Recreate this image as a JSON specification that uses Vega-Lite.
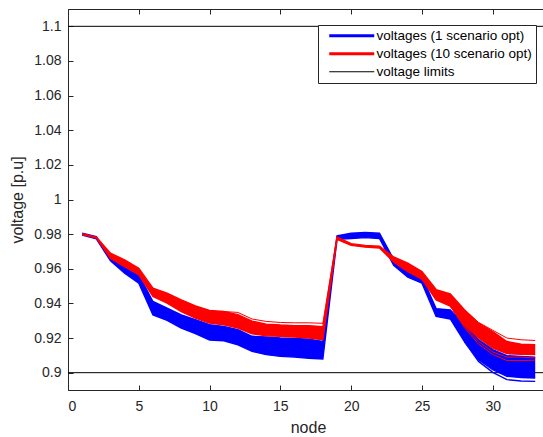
{
  "$schema": "https://vega.github.io/schema/vega-lite/v6.json",
  "width": 475,
  "height": 381,
  "autosize": {"type": "none"},
  "padding": {"left": 68, "top": 9, "right": 0, "bottom": 47},
  "background": "white",
  "config": {
    "view": {"stroke": null},
    "font": "Liberation Sans",
    "axis": {
      "grid": false,
      "domainColor": "#262626",
      "tickColor": "#262626",
      "labelColor": "#262626",
      "titleColor": "#262626",
      "labelFont": "Liberation Sans",
      "titleFont": "Liberation Sans",
      "labelFontSize": 14,
      "titleFontSize": 16,
      "titleFontWeight": "normal",
      "tickSize": -5,
      "domainWidth": 1,
      "tickWidth": 1
    },
    "legend": {
      "orient": "none",
      "legendX": 250,
      "legendY": 16,
      "fillColor": "white",
      "strokeColor": "#262626",
      "padding": 4,
      "labelFont": "Liberation Sans",
      "labelFontSize": 13.5,
      "labelColor": "black",
      "rowPadding": 3,
      "labelLimit": 300,
      "title": null
    }
  },
  "datasets": {
    "bands": [
      {"node": 1, "series": "voltages (1 scenario opt)", "lo": 0.9795, "hi": 0.9805},
      {"node": 2, "series": "voltages (1 scenario opt)", "lo": 0.9773, "hi": 0.9785},
      {"node": 3, "series": "voltages (1 scenario opt)", "lo": 0.9646, "hi": 0.9672},
      {"node": 4, "series": "voltages (1 scenario opt)", "lo": 0.9575, "hi": 0.9615},
      {"node": 5, "series": "voltages (1 scenario opt)", "lo": 0.9517, "hi": 0.9565},
      {"node": 6, "series": "voltages (1 scenario opt)", "lo": 0.9334, "hi": 0.9411},
      {"node": 7, "series": "voltages (1 scenario opt)", "lo": 0.9302, "hi": 0.9373},
      {"node": 8, "series": "voltages (1 scenario opt)", "lo": 0.9258, "hi": 0.9334},
      {"node": 9, "series": "voltages (1 scenario opt)", "lo": 0.9225, "hi": 0.9306},
      {"node": 10, "series": "voltages (1 scenario opt)", "lo": 0.9188, "hi": 0.9277},
      {"node": 11, "series": "voltages (1 scenario opt)", "lo": 0.9184, "hi": 0.9267},
      {"node": 12, "series": "voltages (1 scenario opt)", "lo": 0.9161, "hi": 0.9248},
      {"node": 13, "series": "voltages (1 scenario opt)", "lo": 0.9123, "hi": 0.921},
      {"node": 14, "series": "voltages (1 scenario opt)", "lo": 0.9104, "hi": 0.9206},
      {"node": 15, "series": "voltages (1 scenario opt)", "lo": 0.9094, "hi": 0.92},
      {"node": 16, "series": "voltages (1 scenario opt)", "lo": 0.909, "hi": 0.9198},
      {"node": 17, "series": "voltages (1 scenario opt)", "lo": 0.9083, "hi": 0.9194},
      {"node": 18, "series": "voltages (1 scenario opt)", "lo": 0.9079, "hi": 0.918},
      {"node": 19, "series": "voltages (1 scenario opt)", "lo": 0.977, "hi": 0.979},
      {"node": 20, "series": "voltages (1 scenario opt)", "lo": 0.9775, "hi": 0.9805},
      {"node": 21, "series": "voltages (1 scenario opt)", "lo": 0.978, "hi": 0.981},
      {"node": 22, "series": "voltages (1 scenario opt)", "lo": 0.9775, "hi": 0.9805},
      {"node": 23, "series": "voltages (1 scenario opt)", "lo": 0.962, "hi": 0.9655},
      {"node": 24, "series": "voltages (1 scenario opt)", "lo": 0.9552, "hi": 0.9598},
      {"node": 25, "series": "voltages (1 scenario opt)", "lo": 0.9517, "hi": 0.9555},
      {"node": 26, "series": "voltages (1 scenario opt)", "lo": 0.9325, "hi": 0.937},
      {"node": 27, "series": "voltages (1 scenario opt)", "lo": 0.931, "hi": 0.9363},
      {"node": 28, "series": "voltages (1 scenario opt)", "lo": 0.918, "hi": 0.9277},
      {"node": 29, "series": "voltages (1 scenario opt)", "lo": 0.9075, "hi": 0.919},
      {"node": 30, "series": "voltages (1 scenario opt)", "lo": 0.9017, "hi": 0.9133},
      {"node": 31, "series": "voltages (1 scenario opt)", "lo": 0.8979, "hi": 0.9098},
      {"node": 32, "series": "voltages (1 scenario opt)", "lo": 0.8972, "hi": 0.9094},
      {"node": 33, "series": "voltages (1 scenario opt)", "lo": 0.8969, "hi": 0.909},
      {"node": 1, "series": "voltages (10 scenario opt)", "lo": 0.9797, "hi": 0.9803},
      {"node": 2, "series": "voltages (10 scenario opt)", "lo": 0.9777, "hi": 0.9783},
      {"node": 3, "series": "voltages (10 scenario opt)", "lo": 0.966, "hi": 0.969},
      {"node": 4, "series": "voltages (10 scenario opt)", "lo": 0.9613, "hi": 0.9651},
      {"node": 5, "series": "voltages (10 scenario opt)", "lo": 0.9565, "hi": 0.9603},
      {"node": 6, "series": "voltages (10 scenario opt)", "lo": 0.944, "hi": 0.9488},
      {"node": 7, "series": "voltages (10 scenario opt)", "lo": 0.9402, "hi": 0.9459},
      {"node": 8, "series": "voltages (10 scenario opt)", "lo": 0.9353, "hi": 0.9421},
      {"node": 9, "series": "voltages (10 scenario opt)", "lo": 0.9315, "hi": 0.9386},
      {"node": 10, "series": "voltages (10 scenario opt)", "lo": 0.9286, "hi": 0.9359},
      {"node": 11, "series": "voltages (10 scenario opt)", "lo": 0.9277, "hi": 0.9353},
      {"node": 12, "series": "voltages (10 scenario opt)", "lo": 0.9258, "hi": 0.9335},
      {"node": 13, "series": "voltages (10 scenario opt)", "lo": 0.9225, "hi": 0.9298},
      {"node": 14, "series": "voltages (10 scenario opt)", "lo": 0.9213, "hi": 0.928},
      {"node": 15, "series": "voltages (10 scenario opt)", "lo": 0.921, "hi": 0.9275},
      {"node": 16, "series": "voltages (10 scenario opt)", "lo": 0.9206, "hi": 0.9272},
      {"node": 17, "series": "voltages (10 scenario opt)", "lo": 0.92, "hi": 0.9272},
      {"node": 18, "series": "voltages (10 scenario opt)", "lo": 0.919, "hi": 0.9265},
      {"node": 19, "series": "voltages (10 scenario opt)", "lo": 0.977, "hi": 0.9783},
      {"node": 20, "series": "voltages (10 scenario opt)", "lo": 0.9735, "hi": 0.9745},
      {"node": 21, "series": "voltages (10 scenario opt)", "lo": 0.9725, "hi": 0.9735},
      {"node": 22, "series": "voltages (10 scenario opt)", "lo": 0.972, "hi": 0.973},
      {"node": 23, "series": "voltages (10 scenario opt)", "lo": 0.964, "hi": 0.9668},
      {"node": 24, "series": "voltages (10 scenario opt)", "lo": 0.9584, "hi": 0.9632},
      {"node": 25, "series": "voltages (10 scenario opt)", "lo": 0.954, "hi": 0.9584},
      {"node": 26, "series": "voltages (10 scenario opt)", "lo": 0.942, "hi": 0.948},
      {"node": 27, "series": "voltages (10 scenario opt)", "lo": 0.9385, "hi": 0.9455},
      {"node": 28, "series": "voltages (10 scenario opt)", "lo": 0.9275, "hi": 0.9363},
      {"node": 29, "series": "voltages (10 scenario opt)", "lo": 0.92, "hi": 0.9286},
      {"node": 30, "series": "voltages (10 scenario opt)", "lo": 0.9142, "hi": 0.9238},
      {"node": 31, "series": "voltages (10 scenario opt)", "lo": 0.911, "hi": 0.918},
      {"node": 32, "series": "voltages (10 scenario opt)", "lo": 0.9106, "hi": 0.9165},
      {"node": 33, "series": "voltages (10 scenario opt)", "lo": 0.9104, "hi": 0.9161}
    ],
    "extra": [
      {"node": 28, "series": "voltages (1 scenario opt)", "line": "bmin", "v": 0.918},
      {"node": 29, "series": "voltages (1 scenario opt)", "line": "bmin", "v": 0.9065},
      {"node": 30, "series": "voltages (1 scenario opt)", "line": "bmin", "v": 0.9002},
      {"node": 31, "series": "voltages (1 scenario opt)", "line": "bmin", "v": 0.896},
      {"node": 32, "series": "voltages (1 scenario opt)", "line": "bmin", "v": 0.8952},
      {"node": 33, "series": "voltages (1 scenario opt)", "line": "bmin", "v": 0.895},
      {"node": 11, "series": "voltages (10 scenario opt)", "line": "rtop", "v": 0.9353},
      {"node": 12, "series": "voltages (10 scenario opt)", "line": "rtop", "v": 0.9348},
      {"node": 13, "series": "voltages (10 scenario opt)", "line": "rtop", "v": 0.931},
      {"node": 14, "series": "voltages (10 scenario opt)", "line": "rtop", "v": 0.9296},
      {"node": 15, "series": "voltages (10 scenario opt)", "line": "rtop", "v": 0.929},
      {"node": 16, "series": "voltages (10 scenario opt)", "line": "rtop", "v": 0.9288},
      {"node": 17, "series": "voltages (10 scenario opt)", "line": "rtop", "v": 0.9288},
      {"node": 18, "series": "voltages (10 scenario opt)", "line": "rtop", "v": 0.9285},
      {"node": 19, "series": "voltages (10 scenario opt)", "line": "rtop", "v": 0.9783},
      {"node": 28, "series": "voltages (10 scenario opt)", "line": "rtop2", "v": 0.9363},
      {"node": 29, "series": "voltages (10 scenario opt)", "line": "rtop2", "v": 0.929},
      {"node": 30, "series": "voltages (10 scenario opt)", "line": "rtop2", "v": 0.9245},
      {"node": 31, "series": "voltages (10 scenario opt)", "line": "rtop2", "v": 0.92},
      {"node": 32, "series": "voltages (10 scenario opt)", "line": "rtop2", "v": 0.919},
      {"node": 33, "series": "voltages (10 scenario opt)", "line": "rtop2", "v": 0.9186},
      {"node": 27, "series": "voltages (10 scenario opt)", "line": "rlow1", "v": 0.9385},
      {"node": 28, "series": "voltages (10 scenario opt)", "line": "rlow1", "v": 0.926},
      {"node": 29, "series": "voltages (10 scenario opt)", "line": "rlow1", "v": 0.9165},
      {"node": 30, "series": "voltages (10 scenario opt)", "line": "rlow1", "v": 0.9105},
      {"node": 31, "series": "voltages (10 scenario opt)", "line": "rlow1", "v": 0.907},
      {"node": 32, "series": "voltages (10 scenario opt)", "line": "rlow1", "v": 0.907},
      {"node": 33, "series": "voltages (10 scenario opt)", "line": "rlow1", "v": 0.9072},
      {"node": 27, "series": "voltages (10 scenario opt)", "line": "rlow2", "v": 0.9385},
      {"node": 28, "series": "voltages (10 scenario opt)", "line": "rlow2", "v": 0.9268},
      {"node": 29, "series": "voltages (10 scenario opt)", "line": "rlow2", "v": 0.918},
      {"node": 30, "series": "voltages (10 scenario opt)", "line": "rlow2", "v": 0.912},
      {"node": 31, "series": "voltages (10 scenario opt)", "line": "rlow2", "v": 0.909},
      {"node": 32, "series": "voltages (10 scenario opt)", "line": "rlow2", "v": 0.909},
      {"node": 33, "series": "voltages (10 scenario opt)", "line": "rlow2", "v": 0.9085}
    ],
    "limits": [
      {"series": "voltage limits", "v": 0.9},
      {"series": "voltage limits", "v": 1.1}
    ]
  },
  "resolve": {"axis": {"x": "independent"}},
  "layer": [
    {
      "data": {"name": "limits"},
      "mark": {"type": "rule", "strokeWidth": 1},
      "encoding": {
        "y": {"field": "v", "type": "quantitative", "scale": {"domain": [0.89, 1.11], "nice": false, "zero": false}, "axis": {"title": "voltage [p.u]", "values": [0.9, 0.92, 0.94, 0.96, 0.98, 1, 1.02, 1.04, 1.06, 1.08, 1.1], "format": "~g", "labelPadding": 12, "titlePadding": 8}},
        "color": {"field": "series", "type": "nominal", "scale": {"domain": ["voltages (1 scenario opt)", "voltages (10 scenario opt)", "voltage limits"], "range": ["#0000ff", "#ff0000", "#000000"]}, "legend": {"symbolType": "stroke", "symbolSize": 2025, "symbolOffset": 23, "labelOffset": 18, "encode": {"symbols": {"update": {"strokeWidth": {"signal": "datum.value === 'voltage limits' ? 1 : 3"}}}}}}
      }
    },
    {
      "data": {"name": "bands"},
      "transform": [{"filter": "datum.series === 'voltages (1 scenario opt)'"}],
      "mark": {"type": "area", "opacity": 1},
      "encoding": {
        "x": {"field": "node", "type": "quantitative", "scale": {"domain": [0, 33.55], "nice": false, "zero": false}, "axis": {"orient": "top", "labels": false, "title": null, "values": [0, 5, 10, 15, 20, 25, 30]}},
        "y": {"field": "lo", "type": "quantitative", "scale": {"domain": [0.89, 1.11], "nice": false, "zero": false}, "axis": {"title": "voltage [p.u]", "values": [0.9, 0.92, 0.94, 0.96, 0.98, 1, 1.02, 1.04, 1.06, 1.08, 1.1], "format": "~g", "labelPadding": 12, "titlePadding": 8}},
        "y2": {"field": "hi"},
        "fill": {"field": "series", "type": "nominal", "scale": {"domain": ["voltages (1 scenario opt)", "voltages (10 scenario opt)"], "range": ["#0000ff", "#ff0000"]}, "legend": null}
      }
    },
    {
      "data": {"name": "bands"},
      "transform": [{"filter": "datum.series === 'voltages (1 scenario opt)'"}, {"fold": ["lo", "hi"], "as": ["line", "v"]}],
      "mark": {"type": "line", "strokeWidth": 1.4},
      "encoding": {
        "x": {"field": "node", "type": "quantitative", "scale": {"domain": [0, 33.55], "nice": false, "zero": false}, "axis": null},
        "y": {"field": "v", "type": "quantitative", "scale": {"domain": [0.89, 1.11], "nice": false, "zero": false}, "axis": {"title": "voltage [p.u]", "values": [0.9, 0.92, 0.94, 0.96, 0.98, 1, 1.02, 1.04, 1.06, 1.08, 1.1], "format": "~g", "labelPadding": 12, "titlePadding": 8}},
        "color": {"field": "series", "type": "nominal"},
        "detail": {"field": "line"}
      }
    },
    {
      "data": {"name": "extra"},
      "transform": [{"filter": "datum.series === 'voltages (1 scenario opt)'"}],
      "mark": {"type": "line", "strokeWidth": 1.4},
      "encoding": {
        "x": {"field": "node", "type": "quantitative", "scale": {"domain": [0, 33.55], "nice": false, "zero": false}, "axis": null},
        "y": {"field": "v", "type": "quantitative", "scale": {"domain": [0.89, 1.11], "nice": false, "zero": false}, "axis": {"title": "voltage [p.u]", "values": [0.9, 0.92, 0.94, 0.96, 0.98, 1, 1.02, 1.04, 1.06, 1.08, 1.1], "format": "~g", "labelPadding": 12, "titlePadding": 8}},
        "color": {"field": "series", "type": "nominal"},
        "detail": {"field": "line"}
      }
    },
    {
      "data": {"name": "bands"},
      "transform": [{"filter": "datum.series === 'voltages (10 scenario opt)'"}],
      "mark": {"type": "area", "opacity": 1},
      "encoding": {
        "x": {"field": "node", "type": "quantitative", "scale": {"domain": [0, 33.55], "nice": false, "zero": false}, "axis": null},
        "y": {"field": "lo", "type": "quantitative", "scale": {"domain": [0.89, 1.11], "nice": false, "zero": false}, "axis": {"title": "voltage [p.u]", "values": [0.9, 0.92, 0.94, 0.96, 0.98, 1, 1.02, 1.04, 1.06, 1.08, 1.1], "format": "~g", "labelPadding": 12, "titlePadding": 8}},
        "y2": {"field": "hi"},
        "fill": {"field": "series", "type": "nominal", "legend": null}
      }
    },
    {
      "data": {"name": "bands"},
      "transform": [{"filter": "datum.series === 'voltages (10 scenario opt)'"}, {"fold": ["lo", "hi"], "as": ["line", "v"]}],
      "mark": {"type": "line", "strokeWidth": 1.4},
      "encoding": {
        "x": {"field": "node", "type": "quantitative", "scale": {"domain": [0, 33.55], "nice": false, "zero": false}, "axis": null},
        "y": {"field": "v", "type": "quantitative", "scale": {"domain": [0.89, 1.11], "nice": false, "zero": false}, "axis": {"title": "voltage [p.u]", "values": [0.9, 0.92, 0.94, 0.96, 0.98, 1, 1.02, 1.04, 1.06, 1.08, 1.1], "format": "~g", "labelPadding": 12, "titlePadding": 8}},
        "color": {"field": "series", "type": "nominal"},
        "detail": {"field": "line"}
      }
    },
    {
      "data": {"name": "extra"},
      "transform": [{"filter": "datum.series === 'voltages (10 scenario opt)'"}],
      "mark": {"type": "line", "strokeWidth": 1},
      "encoding": {
        "x": {"field": "node", "type": "quantitative", "scale": {"domain": [0, 33.55], "nice": false, "zero": false}, "axis": {"orient": "bottom", "title": "node", "values": [0, 5, 10, 15, 20, 25, 30], "labelPadding": 14, "titleX": 240, "titlePadding": 6}},
        "y": {"field": "v", "type": "quantitative", "scale": {"domain": [0.89, 1.11], "nice": false, "zero": false}, "axis": {"title": "voltage [p.u]", "values": [0.9, 0.92, 0.94, 0.96, 0.98, 1, 1.02, 1.04, 1.06, 1.08, 1.1], "format": "~g", "labelPadding": 12, "titlePadding": 8}},
        "color": {"field": "series", "type": "nominal"},
        "detail": {"field": "line"}
      }
    }
  ]
}
